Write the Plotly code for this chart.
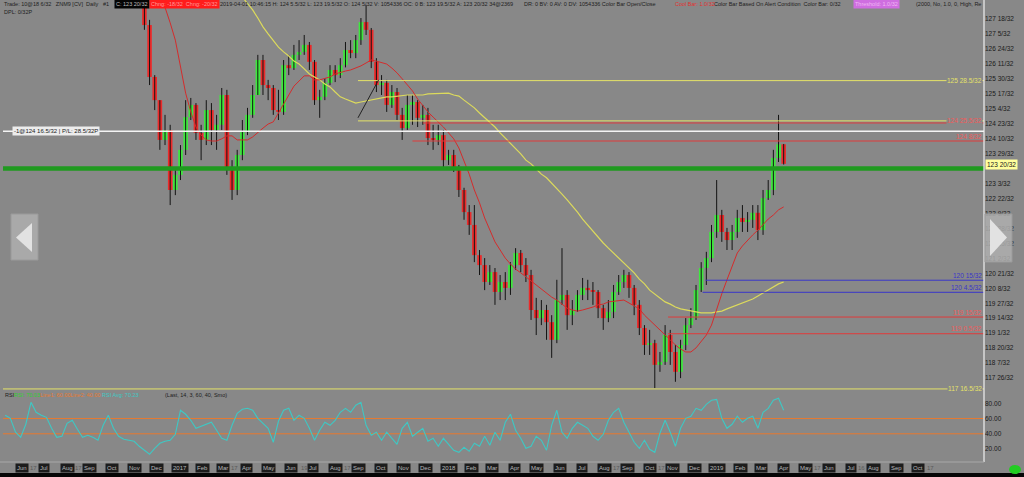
import pandas as pd
import plotly.graph_objects as go

W, H = 1024, 477
BG = "#888888"
LAST_BAR = "2019-04-01"
X_START, X_END = "2016-05-06", "2019-12-29"
Y_HI = 128.08
Y_LO = 117.46

# ---------------- weekly bars (ZNM9) ----------------
bar_open = [128.22, 127.40, 125.99, 125.36, 124.28, 124.55, 122.92, 123.33, 124.01, 124.90,
            125.23, 124.47, 124.28, 125.09, 124.55, 124.69, 125.50, 123.46, 122.92, 123.87,
            124.49, 124.96, 125.50, 126.45, 125.77, 125.69, 125.09, 125.04, 126.31, 126.23,
            126.59, 126.67, 126.86, 126.40, 125.36, 125.45, 125.83, 126.18, 126.04, 126.31,
            126.72, 126.64, 126.99, 127.48, 127.27, 126.40, 125.77, 125.83, 125.23, 125.58,
            124.96, 124.60, 125.23, 125.31, 124.88, 124.96, 124.33, 124.28, 124.41, 123.73,
            123.87, 123.52, 122.92, 122.32, 121.97, 121.15, 120.88, 120.42, 120.69, 120.15,
            120.42, 120.26, 120.88, 121.21, 120.88, 120.61, 119.66, 119.44, 119.66, 119.33,
            118.85, 119.93, 120.07, 119.52, 119.66, 120.07, 120.26, 120.20, 120.15, 119.71,
            119.44, 119.61, 120.15, 120.42, 120.61, 120.26, 119.80, 119.17, 118.71, 118.76,
            118.17, 118.25, 118.98, 118.52, 117.98, 118.71, 119.25, 119.44, 120.20, 120.80,
            121.07, 121.78, 122.24, 121.78, 121.56, 121.78, 122.16, 122.05, 122.11, 122.30,
            121.83, 122.70, 122.92, 123.79, 124.16]
bar_high = [128.35, 127.54, 126.04, 125.36, 124.96, 124.69, 123.46, 124.14, 125.36, 125.42,
            125.28, 124.69, 125.36, 125.28, 124.96, 125.69, 125.64, 123.73, 124.01, 124.82,
            125.15, 125.77, 126.59, 126.59, 125.91, 125.77, 125.64, 126.45, 126.59, 126.86,
            126.99, 127.13, 126.94, 126.45, 125.64, 125.96, 126.31, 126.31, 126.50, 126.94,
            126.99, 127.13, 127.59, 127.94, 127.32, 126.50, 126.04, 125.91, 125.77, 125.69,
            125.15, 125.50, 125.50, 125.36, 125.23, 125.15, 124.69, 124.69, 124.55, 124.01,
            124.01, 123.60, 122.98, 122.51, 122.51, 121.29, 121.07, 120.88, 120.80, 120.61,
            120.69, 120.96, 121.34, 121.29, 121.07, 120.75, 119.99, 119.93, 119.80, 119.52,
            120.48, 121.34, 120.20, 119.93, 120.20, 120.53, 120.48, 120.42, 120.20, 119.80,
            119.93, 120.34, 120.61, 120.75, 120.69, 120.34, 119.93, 119.25, 119.12, 118.85,
            118.52, 119.25, 119.12, 118.71, 118.85, 119.44, 119.71, 120.34, 120.96, 121.24,
            121.97, 123.19, 122.38, 121.89, 121.97, 122.38, 122.51, 122.32, 122.51, 122.51,
            122.92, 123.19, 124.01, 124.96, 124.17]
bar_low = [127.27, 125.77, 125.09, 124.01, 124.14, 122.51, 122.78, 123.19, 123.87, 124.82,
           124.28, 123.73, 124.14, 124.14, 124.01, 124.55, 123.33, 122.65, 122.78, 123.73,
           124.41, 124.88, 125.50, 125.50, 125.36, 124.96, 124.82, 124.96, 126.04, 126.18,
           126.45, 126.59, 126.18, 125.23, 124.88, 125.36, 125.77, 125.85, 125.96, 126.25,
           126.50, 126.50, 126.86, 127.13, 126.23, 125.58, 125.50, 125.04, 125.15, 124.82,
           124.28, 124.55, 124.69, 124.63, 124.69, 124.14, 124.01, 124.14, 123.54, 123.60,
           123.41, 122.73, 122.11, 121.70, 120.96, 120.61, 120.20, 120.34, 119.80, 119.93,
           119.93, 120.07, 120.75, 120.69, 120.42, 119.39, 118.98, 119.25, 118.85, 118.36,
           118.76, 119.80, 119.12, 119.25, 119.61, 119.93, 119.93, 119.80, 119.44, 119.12,
           119.33, 119.44, 120.07, 120.26, 119.99, 119.52, 118.98, 118.44, 118.44, 117.54,
           117.98, 118.17, 118.17, 117.71, 117.81, 118.57, 119.17, 119.39, 120.15, 120.34,
           120.96, 121.62, 121.51, 121.29, 121.29, 121.62, 121.78, 121.78, 121.89, 121.56,
           121.70, 122.65, 122.78, 123.68, 123.61]
bar_close = [127.40, 125.99, 125.36, 124.28, 124.55, 122.92, 123.33, 124.01, 124.90, 125.23,
             124.47, 124.28, 125.09, 124.55, 124.69, 125.50, 123.46, 122.92, 123.87, 124.49,
             124.96, 125.50, 126.45, 125.77, 125.69, 125.09, 125.04, 126.31, 126.23, 126.59,
             126.67, 126.86, 126.40, 125.36, 125.45, 125.83, 126.18, 126.04, 126.31, 126.72,
             126.64, 126.99, 127.48, 127.27, 126.40, 125.77, 125.83, 125.23, 125.58, 124.96,
             124.60, 125.23, 125.31, 124.88, 124.96, 124.33, 124.28, 124.41, 123.73, 123.87,
             123.52, 122.92, 122.32, 121.97, 121.15, 120.88, 120.42, 120.69, 120.15, 120.42,
             120.26, 120.88, 121.21, 120.88, 120.61, 119.66, 119.44, 119.66, 119.33, 118.85,
             119.93, 120.07, 119.52, 119.66, 120.07, 120.26, 120.20, 120.15, 119.71, 119.44,
             119.61, 120.15, 120.42, 120.61, 120.26, 119.80, 119.17, 118.71, 118.76, 118.17,
             118.25, 118.98, 118.52, 117.98, 118.71, 119.25, 119.44, 120.20, 120.80, 121.07,
             121.78, 122.24, 121.78, 121.56, 121.78, 122.16, 122.05, 122.11, 122.30, 121.83,
             122.70, 122.92, 123.79, 124.16, 123.63]

# red (fast) moving average, same weekly dates as the bars
ma_fast = [129.71, 129.17, 128.76, 128.30, 127.89, 127.46, 126.99, 126.26, 125.55, 125.04,
           124.63, 124.41, 124.28, 124.25, 124.25, 124.31, 124.39, 124.39, 124.28, 124.28,
           124.28, 124.36, 124.49, 124.60, 124.71, 124.77, 125.01, 125.26, 125.50, 125.74,
           125.88, 126.02, 126.02, 125.91, 125.91, 125.94, 125.99, 126.07, 126.12, 126.15,
           126.18, 126.23, 126.29, 126.37, 126.45, 126.42, 126.37, 126.34, 126.23, 126.10,
           125.94, 125.77, 125.61, 125.39, 125.20, 125.04, 124.90, 124.77, 124.63, 124.47,
           124.31, 124.06, 123.73, 123.35, 122.92, 122.57, 122.16, 121.81, 121.51, 121.29,
           121.07, 120.91, 120.77, 120.67, 120.56, 120.45, 120.34, 120.23, 120.12, 120.01,
           119.93, 119.82, 119.71, 119.66, 119.63, 119.66, 119.69, 119.74, 119.80, 119.82,
           119.88, 119.90, 119.93, 119.93, 119.85, 119.77, 119.69, 119.52, 119.39, 119.25,
           119.12, 118.98, 118.85, 118.71, 118.60, 118.52, 118.52, 118.63, 118.79, 118.98,
           119.25, 119.69, 120.10, 120.48, 120.86, 121.21, 121.40, 121.56, 121.70, 121.83,
           121.97, 122.13, 122.24, 122.38, 122.46]

# yellow (slow) moving average, weekly, ending on the last bar
ma_slow = [128.62, 128.35, 128.16, 128.00, 127.81, 127.59, 127.35, 127.16, 126.99, 126.80,
           126.67, 126.56, 126.42, 126.34, 126.21, 126.07, 125.99, 125.91, 125.80, 125.72,
           125.58, 125.45, 125.39, 125.34, 125.28, 125.31, 125.34, 125.36, 125.39, 125.42,
           125.45, 125.45, 125.47, 125.47, 125.50, 125.50, 125.50, 125.50, 125.53, 125.53,
           125.55, 125.55, 125.55, 125.50, 125.47, 125.36, 125.26, 125.15, 125.01, 124.88,
           124.77, 124.63, 124.47, 124.33, 124.17, 124.03, 123.90, 123.73, 123.63, 123.49,
           123.35, 123.25, 123.11, 122.95, 122.81, 122.65, 122.49, 122.32, 122.13, 121.97,
           121.78, 121.62, 121.48, 121.34, 121.21, 121.07, 120.94, 120.80, 120.67, 120.50,
           120.37, 120.20, 120.09, 119.99, 119.88, 119.82, 119.74, 119.69, 119.66, 119.63,
           119.61, 119.58, 119.58, 119.58, 119.61, 119.63, 119.69, 119.74, 119.80, 119.85,
           119.91, 119.96, 120.04, 120.12, 120.20, 120.29, 120.37, 120.42]

# RSI average (weekly samples)
rsi_avg = [64.3, 60.3, 42.0, 35.4, 52.5, 81.3, 68.2, 64.3, 61.6, 47.2,
           35.4, 36.7, 53.8, 57.7, 45.9, 35.4, 38.0, 35.4, 31.5, 51.1,
           64.3, 47.2, 36.7, 32.8, 31.5, 30.2, 23.6, 18.4, 13.1, 21.0,
           27.5, 30.2, 31.5, 39.3, 70.8, 65.6, 57.7, 47.2, 49.8, 52.5,
           55.1, 44.6, 34.1, 31.5, 51.1, 66.9, 72.1, 73.4, 70.8, 60.3,
           53.8, 47.2, 28.9, 56.4, 70.8, 73.4, 57.7, 64.3, 60.3, 47.2,
           31.5, 44.6, 55.1, 51.1, 57.7, 68.2, 73.4, 68.2, 77.4, 81.3,
           51.1, 38.0, 42.0, 31.5, 42.0, 34.1, 26.2, 47.2, 55.1, 36.7,
           42.0, 47.2, 30.2, 34.1, 23.6, 34.1, 26.2, 18.4, 15.7, 22.3,
           17.0, 27.5, 23.6, 36.7, 24.9, 42.0, 31.5, 55.1, 65.6, 44.6,
           34.1, 21.0, 23.6, 36.7, 31.5, 18.4, 51.1, 70.8, 42.0, 34.1,
           47.2, 55.1, 51.1, 47.2, 36.7, 31.5, 39.3, 57.7, 68.2, 73.4,
           55.1, 42.0, 28.9, 21.0, 31.5, 19.7, 15.7, 40.7, 57.7, 42.0,
           23.6, 47.2, 60.3, 63.0, 73.4, 70.8, 78.7, 83.9, 85.0, 60.3,
           47.2, 52.5, 63.0, 55.1, 60.3, 63.0, 47.2, 68.2, 73.4, 83.9,
           86.6, 70.8]
rsi_levels = [60, 40]
rsi_tick_values = [20, 40, 60, 80]

# right-hand price scale (the 123 16/32 label is hidden behind the last-price box)
price_tick_labels = ["127 18/32", "127 5/32", "126 24/32", "126 11/32", "125 30/32",
                     "125 17/32", "125 4/32", "124 23/32", "124 10/32", "123 29/32",
                     "123 3/32", "122 22/32", "122 9/32", "121 28/32",
                     "121 15/32", "121 2/32", "120 21/32", "120 8/32", "119 27/32",
                     "119 14/32", "119 1/32", "118 20/32", "118 7/32", "117 26/32"]

# horizontal price levels
level_labels = ["125 28.5/32", "124 25.5/32", "", "124 8/32", "", "",
                "120 15/32", "120 4.5/32", "119 15/32", "119 0.5/32", "117 16.5/32"]
level_values = [None, None, 124.74, None, 124.516, 123.5, None, None, None, None, None]
level_starts = ["2017-08-31", "2017-08-31", "2017-11-27", "2017-11-13", X_START, X_START,
                "2018-12-16", "2018-12-12", "2018-10-26", "2018-10-26", X_START]
level_colors = ["#e4e268", "#e4e268", "#e03a3a", "#e03a3a", "#f4f4f4", "#1f9a1f",
                "#3a36c8", "#3a36c8", "#e03a3a", "#e03a3a", "#e4e268"]
level_widths = [1, 1, 1, 1, 1.6, 4.5, 1, 1, 1, 1, 1]
label_colors = ["#e4e268", "#f05a5a", None, "#f05a5a", None, None,
                "#3a36c8", "#3a36c8", "#f05a5a", "#f05a5a", "#e4e268"]
label_centered = [True, True, False, False, False, False, False, False, False, False, True]

trend_dates = ["2017-08-31", "2017-09-28"]
trend_prices = [124.88, 125.91]

month_ticks = pd.date_range("2016-06-01", "2019-10-01", freq="MS")
day_tick_dates = ["2016-06-17", "2016-08-17", "2017-03-17", "2017-06-19", "2017-08-17",
                  "2018-08-17", "2018-10-17", "2019-05-17", "2019-07-16", "2019-10-17"]
day_tick_text = ["17", "17", "17", "19", "17", "17", "17", "17", "16", "17"]

LAST_PRICE_TEXT = "123 20/32"
POSITION_TEXT = "-1@124 16.5/32 | P/L: 28.5/32P"
FONT = "Liberation Sans"
DAY_MS = 86400000


def from32(s):
    whole, frac = s.split(" ")
    return int(whole) + float(frac.split("/")[0]) / 32.0


def py(p):  # pixel -> paper y
    return 1 - p / H


def px(p):  # pixel -> paper x
    return p / W


bar_dates = pd.date_range(end=LAST_BAR, periods=len(bar_close), freq="7D")
fast_dates = pd.date_range(end=LAST_BAR, periods=len(ma_fast), freq="7D")
slow_dates = pd.date_range(end=LAST_BAR, periods=len(ma_slow), freq="7D")
rsi_dates = pd.date_range(end=LAST_BAR, periods=len(rsi_avg), freq="7D")

body_size = [c - o if abs(c - o) > 0.02 else 0.02 for o, c in zip(bar_open, bar_close)]
body_color = ["#3ee83e" if c >= o else "#ec2a2a" for o, c in zip(bar_open, bar_close)]

fig = go.Figure()
fig.add_trace(go.Bar(x=bar_dates, y=body_size, base=bar_open, width=6.2 * DAY_MS,
                     marker=dict(color=body_color, line=dict(width=0)),
                     hoverinfo="skip", showlegend=False))
fig.add_trace(go.Ohlc(x=bar_dates, open=bar_open, high=bar_high, low=bar_low, close=bar_close,
                      increasing_line_color="#141414", decreasing_line_color="#141414",
                      line_width=1, tickwidth=0, hoverinfo="skip", showlegend=False))
fig.add_trace(go.Scatter(x=slow_dates, y=ma_slow, mode="lines",
                         line=dict(color="#dcda5c", width=1.2), hoverinfo="skip", showlegend=False))
fig.add_trace(go.Scatter(x=fast_dates, y=ma_fast, mode="lines",
                         line=dict(color="#d42c2c", width=1), hoverinfo="skip", showlegend=False))
fig.add_trace(go.Scatter(x=rsi_dates, y=rsi_avg, mode="lines", yaxis="y2",
                         line=dict(color="#3ec8c4", width=1.1), hoverinfo="skip", showlegend=False))

shapes = []
annotations = []

# price levels
for lab, val, start, col, wd, lcol, cen in zip(level_labels, level_values, level_starts,
                                                level_colors, level_widths, label_colors,
                                                label_centered):
    price = val if val is not None else from32(lab)
    shapes.append(dict(type="line", xref="x", yref="y", x0=start, x1=X_END, y0=price, y1=price,
                       line=dict(color=col, width=wd), layer="above"))
    if lab:
        annotations.append(dict(xref="paper", yref="y", x=px(983), y=price, text=lab,
                                xanchor="right", yanchor="middle", showarrow=False,
                                yshift=0 if cen else 5,
                                bgcolor=BG if cen else "rgba(0,0,0,0)", borderpad=0,
                                font=dict(size=6.5, color=lcol, family=FONT)))

shapes.append(dict(type="line", xref="x", yref="y", x0=trend_dates[0], x1=trend_dates[1],
                   y0=trend_prices[0], y1=trend_prices[1], line=dict(color="#222222", width=1)))

for lv in rsi_levels:
    shapes.append(dict(type="line", xref="x", yref="y2", x0=X_START, x1=X_END, y0=lv, y1=lv,
                       line=dict(color="#e87a30", width=1), layer="below"))

# frame lines
shapes.append(dict(type="line", xref="paper", yref="paper", x0=px(984), x1=px(984), y0=py(462), y1=1,
                   line=dict(color="#f0f0f0", width=1.2)))
shapes.append(dict(type="line", xref="paper", yref="paper", x0=0, x1=px(984), y0=py(462), y1=py(462),
                   line=dict(color="#a8a8a8", width=1)))
shapes.append(dict(type="rect", xref="paper", yref="paper", x0=0, x1=1, y0=0, y1=py(473),
                   fillcolor="#060606", line=dict(width=0)))
shapes.append(dict(type="circle", xref="paper", yref="paper", x0=px(1009), x1=px(1021),
                   y0=py(474), y1=py(465), fillcolor="#22cc22", line=dict(width=0)))

# navigation arrows
shapes.append(dict(type="rect", xref="paper", yref="paper", x0=px(11), x1=px(38), y0=py(260), y1=py(214),
                   fillcolor="rgba(175,175,175,0.85)", line=dict(color="#9a9a9a", width=1)))
shapes.append(dict(type="path", xref="paper", yref="paper",
                   path=f"M {px(32)},{py(223)} L {px(32)},{py(252)} L {px(16)},{py(237.5)} Z",
                   fillcolor="#e2e2e2", line=dict(width=0)))
shapes.append(dict(type="rect", xref="paper", yref="paper", x0=px(985), x1=px(1012), y0=py(262), y1=py(214),
                   fillcolor="rgba(175,175,175,0.85)", line=dict(color="#9a9a9a", width=1)))
shapes.append(dict(type="path", xref="paper", yref="paper",
                   path=f"M {px(990)},{py(219)} L {px(990)},{py(256)} L {px(1007)},{py(237.5)} Z",
                   fillcolor="#e2e2e2", line=dict(width=0)))


def txt(x, y, text, color="#1e1e1e", size=5.5, bg=None, anchor="left"):
    annotations.append(dict(xref="paper", yref="paper", x=px(x), y=py(y), text=text,
                            xanchor=anchor, yanchor="middle", showarrow=False, borderpad=1,
                            bgcolor=bg if bg else "rgba(0,0,0,0)",
                            font=dict(size=size, color=color, family=FONT)))


# header
txt(2, 4.5, "Trade: 10@18 6/32   ZNM9 [CV]  Daily   #1")
txt(114, 4.5, "C: 123 20/32", color="#bbbbbb", bg="#050505")
txt(149, 4.5, "Chng: -18/32  Chng: -20/32", color="#ff9a9a", bg="#ff1c1c")
txt(218, 4.5, "2019-04-01 10:46:15 H: 124 5.5/32 L: 123 19.5/32 O: 124 5/32 V: 1054336 OC: 0 B: 123 19.5/32 A: 123 20/32 34@2369")
txt(522, 4.5, "DR: 0 BV: 0 AV: 0 DV: 1054336 Color Bar Open/Close")
txt(673, 4.5, "Cool Bar: 1.0/32", color="#e23030")
txt(712, 4.5, "Color Bar Based On Alert Condition  Color Bar: 0/32")
txt(853, 4.5, "Threshold: 1.0/32", color="#f0b8f4", bg="#cf6ee0")
txt(914, 4.5, "(2000, No, 1.0, 0, High, Re")
txt(2, 12.5, "DPL: 0/32P")

# RSI header
txt(3, 395, "RSI")
txt(12, 395, "RSI: 70.03", color="#2fd02f")
txt(38, 395, "Line1: 60.00", color="#e87a30")
txt(68, 395, "Line2: 40.00", color="#e87a30")
txt(100, 395, "RSI Avg: 70.23", color="#3ec8c4")
txt(163, 395, "(Last, 14, 3, 60, 40, Smo)")

# position label and last-price box
annotations.append(dict(xref="paper", yref="y", x=px(12), y=124.516, text=POSITION_TEXT,
                        xanchor="left", yanchor="middle", showarrow=False, borderpad=1,
                        bgcolor="#ececec", font=dict(size=6, color="#222222", family=FONT)))
annotations.append(dict(xref="paper", yref="y", x=px(985), y=from32(LAST_PRICE_TEXT), text=LAST_PRICE_TEXT,
                        xanchor="left", yanchor="middle", showarrow=False, borderpad=1,
                        bgcolor="#ffff9c", font=dict(size=6.5, color="#202020", family=FONT)))

# time axis labels
for d in month_ticks:
    lab = str(d.year) if d.month == 1 else d.strftime("%b")
    annotations.append(dict(xref="x", yref="paper", x=d, y=py(468), text=lab, showarrow=False,
                            xanchor="center", yanchor="middle", bgcolor="#1c1c1c", borderpad=1,
                            font=dict(size=6, color="#b8b8b8", family=FONT)))
for d, t in zip(day_tick_dates, day_tick_text):
    annotations.append(dict(xref="x", yref="paper", x=d, y=py(468), text=t, showarrow=False,
                            xanchor="center", yanchor="middle",
                            font=dict(size=6, color="#5a5a5a", family=FONT)))

fig.update_layout(
    width=W, height=H, margin=dict(l=0, r=0, t=0, b=0),
    paper_bgcolor=BG, plot_bgcolor=BG, showlegend=False,
    shapes=shapes, annotations=annotations,
    xaxis=dict(domain=[px(3), px(984)], range=[X_START, X_END], type="date",
               showticklabels=False, showgrid=False, zeroline=False, showline=False,
               ticks="", rangeslider=dict(visible=False), fixedrange=True),
    yaxis=dict(domain=[py(391), 1.0], range=[Y_LO, Y_HI], side="right", anchor="x",
               tickvals=[from32(s) for s in price_tick_labels], ticktext=price_tick_labels,
               tickfont=dict(size=6.5, color="#1a1a1a", family=FONT),
               showgrid=False, zeroline=False, showline=False, ticks="", fixedrange=True),
    yaxis2=dict(domain=[py(462), py(392)], range=[3.0, 94.8], side="right", anchor="x",
                tickvals=rsi_tick_values, ticktext=[f"{v:.2f}" for v in rsi_tick_values],
                tickfont=dict(size=6.5, color="#1a1a1a", family=FONT),
                showgrid=False, zeroline=False, showline=False, ticks="", fixedrange=True),
)

fig.write_html("out.html", config={"displayModeBar": False},
               post_script="document.body.style.margin='0px';document.body.style.overflow='hidden';")
